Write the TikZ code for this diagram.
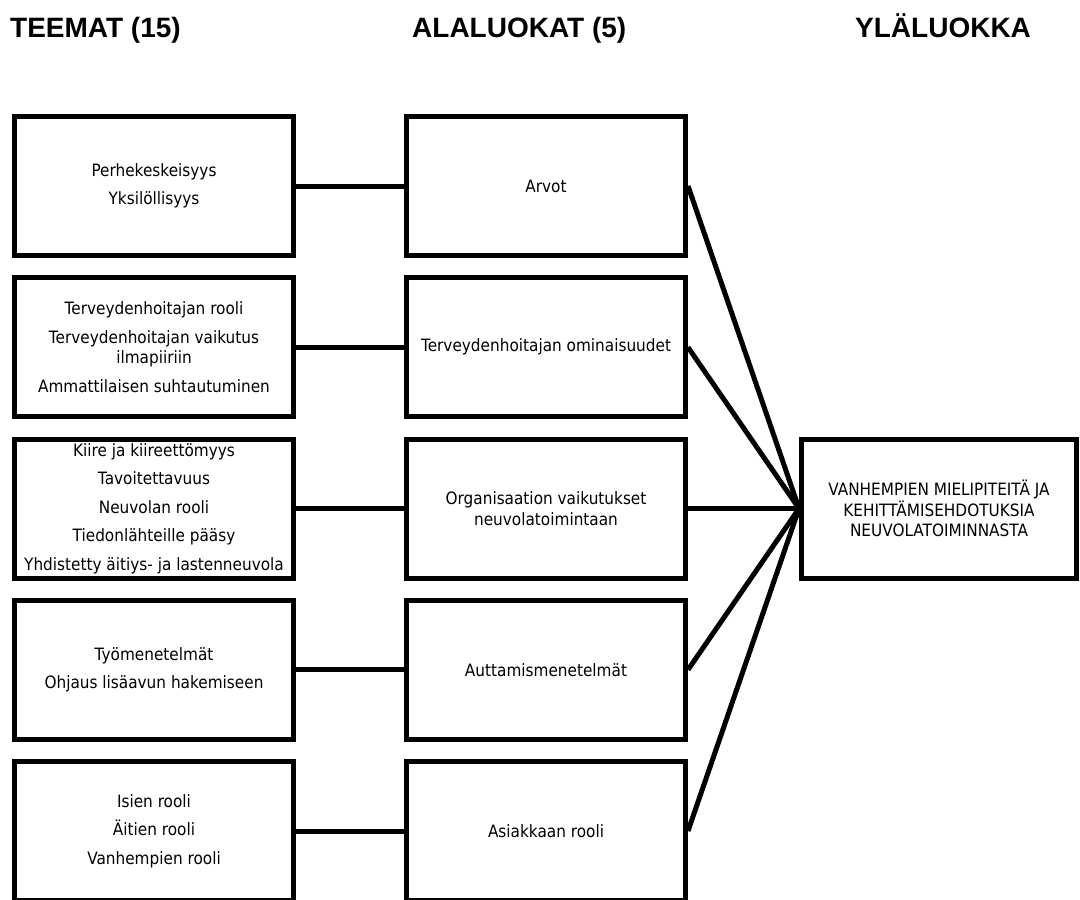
\documentclass[tikz,border=0pt]{standalone}
\usepackage{fontspec}
\setmainfont{DejaVu Sans}[FakeStretch=0.9]
\newfontfamily\headfont{Liberation Sans}
\begin{document}
\begin{tikzpicture}[x=1pt, y=-1pt,
  header/.style={anchor=base west, inner sep=0, font=\headfont\fontsize{28}{30}\selectfont\bfseries},
  theme/.style={draw, line width=5pt, minimum width=279pt, minimum height=139pt,
    inner sep=0, align=center, font=\fontsize{17}{20.5}\selectfont},
  yla/.style={theme, minimum width=275pt},
  link/.style={line width=5pt}]

\clip (0,0) rectangle (1080,900);

\def\gap{8pt}

\node[header] (hteemat) at (10,37) {TEEMAT (15)};
\node[header] (hala) at (412,37) {ALALUOKAT (5)};
\node[header] (hyla) at (855,37) {YLÄLUOKKA};

% teemat
\node[theme] (t1) at (154,186) {Perhekeskeisyys\\[\gap] Yksilöllisyys};
\node[theme] (t2) at (154,347.25) {Terveydenhoitajan rooli\\[\gap] Terveydenhoitajan vaikutus\\ ilmapiiriin\\[\gap] Ammattilaisen suhtautuminen};
\node[theme] (t3) at (154,508.5) {Kiire ja kiireettömyys\\[\gap] Tavoitettavuus\\[\gap] Neuvolan rooli\\[\gap] Tiedonlähteille pääsy\\[\gap] Yhdistetty äitiys- ja lastenneuvola};
\node[theme] (t4) at (154,669.75) {Työmenetelmät\\[\gap] Ohjaus lisäavun hakemiseen};
\node[theme] (t5) at (154,831) {Isien rooli\\[\gap] Äitien rooli\\[\gap] Vanhempien rooli};

% alaluokat
\node[theme] (a1) at (546,186) {Arvot};
\node[theme] (a2) at (546,347.25) {Terveydenhoitajan ominaisuudet};
\node[theme] (a3) at (546,508.5) {Organisaation vaikutukset\\ neuvolatoimintaan};
\node[theme] (a4) at (546,669.75) {Auttamismenetelmät};
\node[theme] (a5) at (546,831) {Asiakkaan rooli};

% yläluokka
\node[yla] (ylaluokka) at (939,508.5) {VANHEMPIEN MIELIPITEITÄ JA\\ KEHITTÄMISEHDOTUKSIA\\ NEUVOLATOIMINNASTA};

\foreach \i in {1,...,5} {
  \draw[link] (t\i.east) -- (a\i.west);
  \draw[link] (a\i.east) -- (ylaluokka.west);
}

\end{tikzpicture}
\end{document}
